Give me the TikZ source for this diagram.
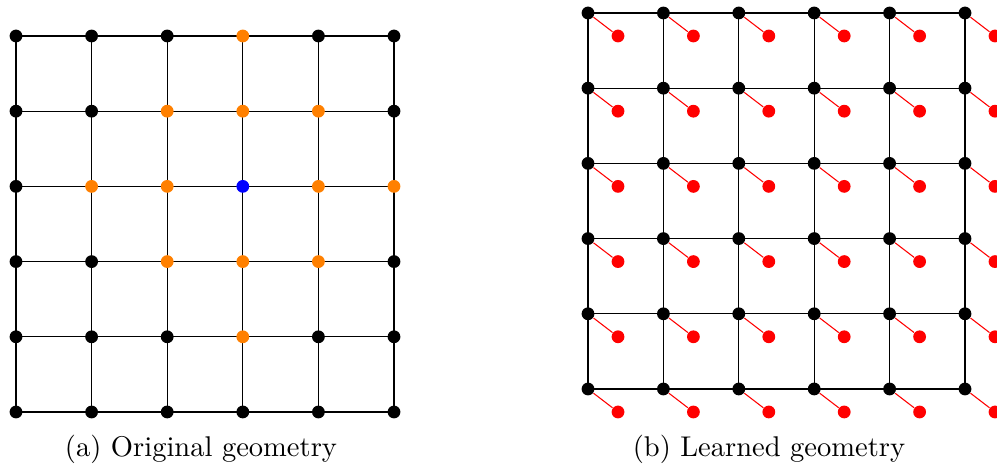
\documentclass[tikz,border=0pt]{standalone}
\usepackage{tikz}
\usepackage{xcolor}
\usetikzlibrary{calc}
\definecolor{nborange}{RGB}{255,128,0}

\begin{document}
\begin{tikzpicture}[x=0.375pt,y=0.375pt,
  dot/.style={circle,fill=#1,inner sep=0pt,minimum size=4.8pt},
  grid/.style={black,line width=0.45pt},
  caption/.style={font=\fontsize{10.7}{13}\selectfont}]
\useasboundingbox (0,0) rectangle (997,468);
% original geometry
\foreach \i in {0,...,5}
  \foreach \j in {0,...,5}
    \coordinate (L\i\j) at ({16+75.6*\i},{432-75.2*\j});
\foreach \i in {0,...,5}{
  \draw[grid] (L\i0) -- (L\i5);
  \draw[grid] (L0\i) -- (L5\i);
}
\foreach \i in {0,...,5}
  \foreach \j in {0,...,5}{
    \pgfmathtruncatemacro{\dist}{abs(\i-3)+abs(\j-2)}
    \ifnum\dist=0 \def\dc{blue}\else\ifnum\dist<3 \def\dc{nborange}\else\def\dc{black}\fi\fi
    \node[dot=\dc] (A\i\j) at (L\i\j) {};
  }
% learned geometry
\foreach \i in {0,...,5}
  \foreach \j in {0,...,5}
    \coordinate (M\i\j) at ({588+75.4*\i},{455-75.2*\j});
\foreach \i in {0,...,5}{
  \draw[grid] (M\i0) -- (M\i5);
  \draw[grid] (M0\i) -- (M5\i);
}
\foreach \i in {0,...,5}
  \foreach \j in {0,...,5}{
    \node[dot=black] (B\i\j) at (M\i\j) {};
    \node[dot=red] (R\i\j) at ($(M\i\j)+(30,-23)$) {};
    \draw[red,line width=0.4pt] (B\i\j) -- (R\i\j);
  }
\node[caption] (capa) at (201,19) {(a) Original geometry};
\node[caption] (capb) at (769,19) {(b) Learned geometry};
\end{tikzpicture}
\end{document}
